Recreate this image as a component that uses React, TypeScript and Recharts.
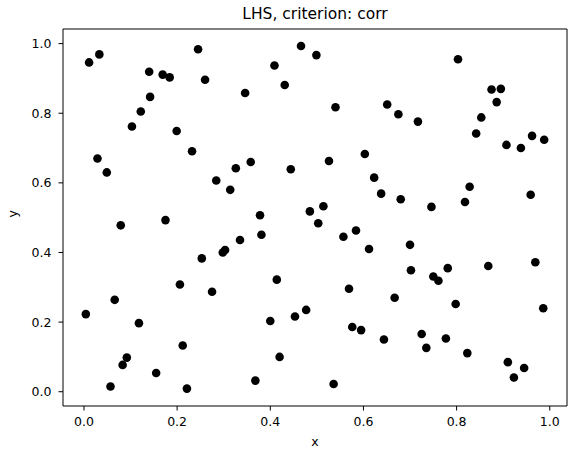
import { ScatterChart, Scatter, XAxis, YAxis, ReferenceArea } from "recharts";

const xValues = [
  0.011, 0.033, 0.245, 0.14, 0.169, 0.184, 0.26, 0.142, 0.122, 0.103,
  0.199, 0.232, 0.029, 0.049, 0.284, 0.314, 0.175, 0.466, 0.499, 0.409,
  0.431, 0.346, 0.54, 0.651, 0.603, 0.358, 0.326, 0.526, 0.444, 0.623,
  0.638, 0.378, 0.485, 0.514, 0.503, 0.803, 0.875, 0.895, 0.886, 0.675,
  0.717, 0.853, 0.842, 0.907, 0.938, 0.962, 0.988, 0.68, 0.746, 0.818,
  0.828, 0.959, 0.079, 0.253, 0.298, 0.303, 0.206, 0.275, 0.066, 0.004,
  0.118, 0.212, 0.092, 0.083, 0.155, 0.057, 0.221, 0.335, 0.381, 0.557,
  0.584, 0.612, 0.414, 0.569, 0.4, 0.453, 0.477, 0.576, 0.595, 0.644,
  0.42, 0.368, 0.536, 0.7, 0.702, 0.75, 0.761, 0.781, 0.868, 0.969,
  0.667, 0.798, 0.986, 0.725, 0.735, 0.777, 0.823, 0.91, 0.945, 0.923,
];

const yValues = [
  0.946, 0.969, 0.984, 0.919, 0.911, 0.903, 0.896, 0.847, 0.805, 0.762,
  0.749, 0.691, 0.67, 0.63, 0.607, 0.58, 0.493, 0.993, 0.967, 0.937,
  0.881, 0.858, 0.817, 0.825, 0.683, 0.66, 0.642, 0.663, 0.639, 0.615,
  0.569, 0.507, 0.518, 0.533, 0.484, 0.955, 0.868, 0.87, 0.832, 0.797,
  0.776, 0.788, 0.742, 0.709, 0.7, 0.735, 0.724, 0.553, 0.531, 0.545,
  0.589, 0.566, 0.478, 0.383, 0.4, 0.407, 0.308, 0.287, 0.264, 0.223,
  0.197, 0.133, 0.098, 0.077, 0.054, 0.015, 0.009, 0.436, 0.451, 0.445,
  0.463, 0.41, 0.322, 0.296, 0.203, 0.216, 0.235, 0.186, 0.177, 0.15,
  0.1, 0.032, 0.022, 0.422, 0.349, 0.331, 0.319, 0.355, 0.361, 0.372,
  0.27, 0.252, 0.24, 0.166, 0.126, 0.153, 0.111, 0.085, 0.068, 0.041,
];

const xTicks = [0, 0.2, 0.4, 0.6, 0.8, 1.0];
const yTicks = [0, 0.2, 0.4, 0.6, 0.8, 1.0];
const xDomain = [-0.045, 1.037];
const yDomain = [-0.041, 1.042];

const points = xValues.map((x, i) => ({ x, y: yValues[i] }));

const font = "DejaVu Sans, sans-serif";
const tickStyle = { fill: "#000", fontSize: 12.5, fontFamily: font };

const Dot = (props: any) => <circle cx={props.cx} cy={props.cy} r={4.3} fill="#000" />;

export default function App() {
  return (
    <div style={{ position: "absolute", left: 0, top: 0, width: 570, height: 452, background: "#fff", fontFamily: font }}>
      <div
        style={{
          position: "absolute",
          left: 63,
          width: 504,
          top: 6,
          textAlign: "center",
          fontSize: 15.5,
          lineHeight: "16px",
          color: "#000",
        }}
      >
        LHS, criterion: corr
      </div>
      <ScatterChart width={570} height={452} margin={{ top: 29, right: 3, bottom: 0, left: 0 }}>
        <XAxis
          type="number"
          dataKey="x"
          domain={xDomain}
          ticks={xTicks}
          allowDataOverflow
          height={46}
          tickSize={4.5}
          tickMargin={7}
          tick={tickStyle}
          tickLine={{ stroke: "#000" }}
          axisLine={false}
          tickFormatter={(v) => v.toFixed(1)}
          label={{ value: "x", position: "insideBottom", offset: 6, fill: "#000", fontSize: 12.5, fontFamily: font }}
        />
        <YAxis
          type="number"
          dataKey="y"
          domain={yDomain}
          ticks={yTicks}
          allowDataOverflow
          width={63}
          tickSize={4.5}
          tickMargin={7}
          tick={tickStyle}
          tickLine={{ stroke: "#000" }}
          axisLine={false}
          tickFormatter={(v) => v.toFixed(1)}
          label={{ value: "y", angle: -90, position: "insideLeft", offset: 13, fill: "#000", fontSize: 12.5, fontFamily: font }}
        />
        <ReferenceArea
          x1={xDomain[0]}
          x2={xDomain[1]}
          y1={yDomain[0]}
          y2={yDomain[1]}
          fill="none"
          fillOpacity={0}
          stroke="#000"
          strokeWidth={1}
        />
        <Scatter data={points} shape={Dot} isAnimationActive={false} />
      </ScatterChart>
    </div>
  );
}
